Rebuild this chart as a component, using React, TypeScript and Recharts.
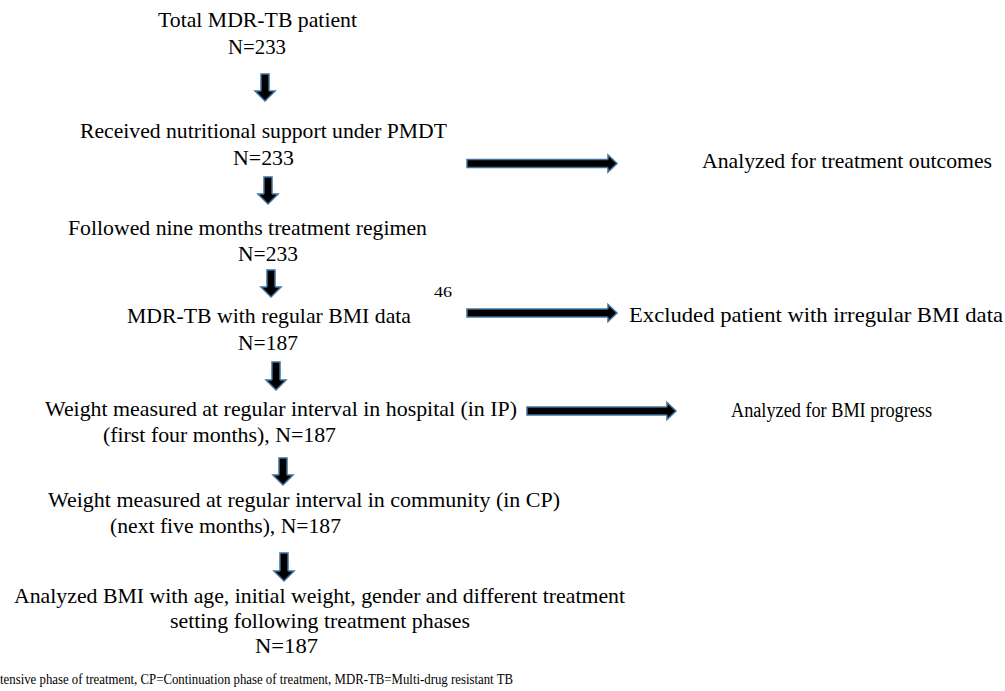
import { ComposedChart, XAxis, YAxis, Scatter, ReferenceArea } from "recharts";

// flow chart text lines: x = left edge, y = baseline, w = drawn width
const textLines = [
  { text: "Total MDR-TB patient", x: 158, y: 27, w: 199, kind: "main" },
  { text: "N=233", x: 228, y: 54, w: 58, kind: "main" },
  { text: "Received nutritional support under PMDT", x: 80, y: 138, w: 367, kind: "main" },
  { text: "N=233", x: 233, y: 165, w: 61, kind: "main" },
  { text: "Followed nine months treatment regimen", x: 68, y: 235, w: 359, kind: "main" },
  { text: "N=233", x: 238, y: 261, w: 60, kind: "main" },
  { text: "46", x: 434, y: 297, w: 18, kind: "note" },
  { text: "MDR-TB with regular BMI data", x: 127, y: 323, w: 284, kind: "main" },
  { text: "N=187", x: 238, y: 350, w: 60, kind: "main" },
  { text: "Weight measured at regular interval in hospital (in IP)", x: 45, y: 416, w: 472, kind: "sub" },
  { text: "(first four months), N=187", x: 103, y: 442, w: 233, kind: "sub" },
  { text: "Weight measured at regular interval in community (in CP)", x: 48, y: 507, w: 512, kind: "sub" },
  { text: "(next five months), N=187", x: 110, y: 533, w: 231, kind: "sub" },
  { text: "Analyzed BMI with age, initial weight, gender and different treatment", x: 14, y: 603, w: 611, kind: "sub" },
  { text: "setting following treatment phases", x: 170, y: 628, w: 300, kind: "sub" },
  { text: "N=187", x: 255, y: 653, w: 63, kind: "sub" },
  { text: "tensive phase of treatment, CP=Continuation phase of treatment,  MDR-TB=Multi-drug resistant TB", x: 0, y: 684, w: 513, kind: "foot" },
];

const sideLabels = [
  { text: "Analyzed for treatment outcomes", x: 702, y: 168, w: 290, kind: "main" },
  { text: "Excluded patient with irregular BMI data", x: 629, y: 322, w: 374, kind: "main" },
  { text: "Analyzed for BMI progress", x: 731, y: 417, w: 201, kind: "small" },
];

// x = centre, top = shaft start, tip = arrow point
const downArrows = [
  { x: 265, top: 74, tip: 101 },
  { x: 268, top: 177, tip: 204 },
  { x: 271, top: 270, tip: 297 },
  { x: 276, top: 362, tip: 390 },
  { x: 283, top: 458, tip: 485 },
  { x: 284, top: 553, tip: 581 },
];

// y = centre, start = shaft start, tip = arrow point
const rightArrows = [
  { y: 163.5, start: 467, tip: 617 },
  { y: 313, start: 467, tip: 617 },
  { y: 411, start: 527, tip: 676 },
];

const fontSizes: Record<string, number> = { main: 22, sub: 21.5, small: 20.5, note: 15, foot: 15.5 };
const FONT = '"Liberation Serif", "Times New Roman", Times, serif';
const OUTLINE = "#41719c";
const HEAD = 10;
const SHAFT = 4;

const Label = (props: any) => {
  const { cx, cy, payload } = props;
  return (
    <text
      x={cx}
      y={cy}
      style={{ fontFamily: FONT, fontSize: fontSizes[payload.kind] }}
      fill="#000"
      textLength={payload.w}
      lengthAdjust="spacingAndGlyphs"
    >
      {payload.text}
    </text>
  );
};

const DownHead = (props: any) => {
  const { cx, cy } = props;
  const b = cy - HEAD;
  return (
    <g>
      <polygon
        points={`${cx - SHAFT + 0.8},${b - 1.2} ${cx + SHAFT - 0.8},${b - 1.2} ${cx + SHAFT - 0.8},${b} ${cx + HEAD},${b} ${cx},${cy} ${cx - HEAD},${b} ${cx - SHAFT + 0.8},${b}`}
        fill="#000"
      />
      <polyline
        points={`${cx - SHAFT},${b} ${cx - HEAD},${b} ${cx},${cy} ${cx + HEAD},${b} ${cx + SHAFT},${b}`}
        fill="none"
        stroke={OUTLINE}
        strokeWidth={1.5}
      />
    </g>
  );
};

const RightHead = (props: any) => {
  const { cx, cy } = props;
  const b = cx - 9;
  const h = 8.5;
  return (
    <g>
      <polygon
        points={`${b - 1.2},${cy - SHAFT + 0.8} ${b - 1.2},${cy + SHAFT - 0.8} ${b},${cy + SHAFT - 0.8} ${b},${cy + h} ${cx},${cy} ${b},${cy - h} ${b},${cy - SHAFT + 0.8}`}
        fill="#000"
      />
      <polyline
        points={`${b},${cy - SHAFT} ${b},${cy - h} ${cx},${cy} ${b},${cy + h} ${b},${cy + SHAFT}`}
        fill="none"
        stroke={OUTLINE}
        strokeWidth={1.5}
      />
    </g>
  );
};

export default function App() {
  const downTips = downArrows.map((a) => ({ x: a.x, y: a.tip }));
  const rightTips = rightArrows.map((a) => ({ x: a.tip, y: a.y }));
  return (
    <div style={{ position: "absolute", left: 0, top: 0, background: "#fff" }}>
      <ComposedChart width={1005} height={691} margin={{ top: 0, right: 0, bottom: 0, left: 0 }}>
        <XAxis type="number" dataKey="x" domain={[0, 1005]} allowDataOverflow hide />
        <YAxis type="number" dataKey="y" domain={[0, 691]} allowDataOverflow reversed hide />
        {downArrows.map((a, i) => (
          <ReferenceArea
            key={`d${i}`}
            x1={a.x - SHAFT}
            x2={a.x + SHAFT}
            y1={a.top}
            y2={a.tip - HEAD}
            fill="#000"
            fillOpacity={1}
            stroke={OUTLINE}
            strokeWidth={1.5}
          />
        ))}
        {rightArrows.map((a, i) => (
          <ReferenceArea
            key={`r${i}`}
            x1={a.start}
            x2={a.tip - 9}
            y1={a.y - SHAFT}
            y2={a.y + SHAFT}
            fill="#000"
            fillOpacity={1}
            stroke={OUTLINE}
            strokeWidth={1.5}
          />
        ))}
        <Scatter data={downTips} shape={DownHead} isAnimationActive={false} />
        <Scatter data={rightTips} shape={RightHead} isAnimationActive={false} />
        <Scatter data={textLines} shape={Label} isAnimationActive={false} />
        <Scatter data={sideLabels} shape={Label} isAnimationActive={false} />
      </ComposedChart>
    </div>
  );
}
